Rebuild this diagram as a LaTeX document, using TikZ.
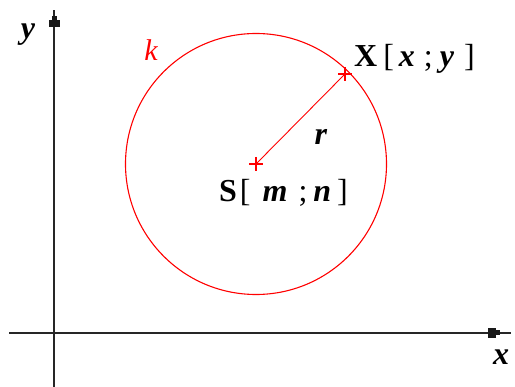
\documentclass[tikz,border=0pt]{standalone}
\usepackage{fontspec}
\setmainfont{Liberation Serif}
\usetikzlibrary{calc}
\newcommand{\hs}[1]{\hspace{#1pt}}
\begin{document}
\begin{tikzpicture}[x=1pt,y=-1pt,
  axis/.style={draw=black!85,line width=1.8pt},
  tipbox/.style={fill=black!90,draw=none},
  redline/.style={draw=red,line width=1.1pt},
  lbl/.style={font=\fontsize{32}{34}\selectfont\bfseries, inner sep=0pt, text=black}]
\useasboundingbox (0,0) rectangle (515,387);
% axes
\coordinate (yb) at (54,387);
\coordinate (yt) at (54,10);
\coordinate (xl) at (9,333);
\coordinate (xr) at (511,333);
\draw[axis] (yb) -- (yt);
\draw[axis] (xl) -- (xr);
\fill[tipbox] (48.5,20) rectangle (59.5,27.5);
\fill[tipbox] (51.5,16) rectangle (56.5,20);
\fill[tipbox] (488,328) rectangle (495.5,338);
\fill[tipbox] (495.5,330.5) rectangle (499.5,335.5);
% circle
\coordinate (S) at (256,164);
\coordinate (X) at (345,74);
\draw[redline] (S) circle (130.5);
\draw[draw=red,line width=0.9pt] (S) -- (X);
\draw[draw=red,line width=1.1pt] ($(S)+(-7,0)$) -- ($(S)+(7,0)$) ($(S)+(0,-7)$) -- ($(S)+(0,7)$);
\draw[draw=red,line width=1.1pt] ($(X)+(-7,0)$) -- ($(X)+(7,0)$) ($(X)+(0,-7)$) -- ($(X)+(0,7)$);
% labels
\node[lbl, anchor=center] (ylab) at (28,35) {\textit{y}};
\node[lbl, anchor=center] (xlab) at (501,357) {\textit{x}};
\node[lbl, anchor=center, text=red, font=\fontsize{30}{32}\selectfont\itshape] (klab) at (151,50) {k};
\node[lbl, anchor=base west] (Xlab) at (354,67) {X\hs{6}{\mdseries[}\hs{5}\textit{x}\hs{9}{\mdseries;}\hs{7}\textit{y}\hs{10}{\mdseries]}};
\node[lbl, anchor=center] (rlab) at (321,137) {\textit{r}};
\node[lbl, anchor=base west] (Slab) at (219,202) {S\hs{3}{\mdseries[}\hs{12}\textit{m}\hs{11}{\mdseries;}\hs{6}\textit{n}\hs{6}{\mdseries]}};
\end{tikzpicture}
\end{document}
